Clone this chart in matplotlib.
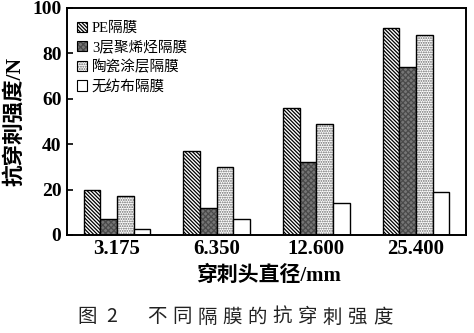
import numpy as np
import matplotlib
matplotlib.use("Agg")
import matplotlib.pyplot as plt
from matplotlib.patches import Patch

plt.rcParams['font.family'] = ['Liberation Serif', 'Noto Sans CJK SC']
plt.rcParams['hatch.linewidth'] = 0.9

diameters = ['3.175', '6.350', '12.600', '25.400']
series_names = ['PE隔膜', '3层聚烯烃隔膜', '陶瓷涂层隔膜', '无纺布隔膜']
pe_values = [20, 37, 56, 91]
polyolefin_values = [7, 12, 32, 74]
ceramic_values = [17, 30, 49, 88]
nonwoven_values = [2.5, 7, 14, 19]
y_ticks = [0, 20, 40, 60, 80, 100]

series_values = [pe_values, polyolefin_values, ceramic_values, nonwoven_values]
styles = [
    dict(facecolor='white', hatch='\\' * 9, hatch_color='black'),
    dict(facecolor='#767676', hatch='x' * 6, hatch_color='#4a4a4a'),
    dict(facecolor='white', hatch='.' * 7, hatch_color='#666666'),
    dict(facecolor='white', hatch=None, hatch_color='black'),
]

fig = plt.figure(figsize=(4.74, 3.33), dpi=100)
ax = fig.add_axes([0.1414, 0.2943, 0.8416, 0.6817])

x = np.arange(len(diameters))
width = 0.167
handles = []
for i, (name, vals, st) in enumerate(zip(series_names, series_values, styles)):
    offs = (i - 1.5) * width
    bars = ax.bar(x + offs, vals, width, facecolor=st['facecolor'], edgecolor='black',
                  linewidth=1.0, hatch=st['hatch'], label=name)
    for b in bars:
        b._hatch_color = matplotlib.colors.to_rgba(st['hatch_color'])
    h = Patch(facecolor=st['facecolor'], edgecolor='black', linewidth=0.8, hatch=st['hatch'])
    h._hatch_color = matplotlib.colors.to_rgba(st['hatch_color'])
    handles.append(h)

ax.set_xlim(-0.5, 3.5)
ax.set_ylim(0, 100)
ax.set_yticks(y_ticks)
ax.set_yticklabels([str(t) for t in y_ticks], fontsize=14, fontweight='bold')
ax.set_xticks(x)
ax.set_xticklabels(diameters, fontsize=15, fontweight='bold')
ax.tick_params(axis='y', direction='in', length=4, width=1.2, pad=4)
ax.tick_params(axis='x', length=0, pad=3)
for sp in ax.spines.values():
    sp.set_linewidth(1.4)

ax.set_xlabel('穿刺头直径/mm', fontsize=15, fontweight='bold')
ax.xaxis.set_label_coords(0.505, -0.135)
ax.set_ylabel('抗穿刺强度/N', fontsize=15.5, fontweight='bold')
ax.yaxis.set_label_coords(-0.105, 0.5)

leg = ax.legend(handles=handles, labels=series_names, loc='upper left', frameon=False,
                fontsize=10.5, handlelength=0.7, handleheight=0.7, handletextpad=0.3,
                labelspacing=0.38, borderaxespad=0.3, bbox_to_anchor=(0.0, 0.985))

# caption below the chart
caption = [('图', 87), ('2', 112), ('不', 157), ('同', 182), ('隔', 207), ('膜', 232), ('的', 257),
           ('抗', 282), ('穿', 307), ('刺', 332), ('强', 357), ('度', 383)]
for ch, px in caption:
    fig.text(px / 474, 1 - 317 / 333, ch, fontsize=14, ha='center', va='center',
             family=['Noto Sans CJK SC'], fontweight='light', color='#222222')

fig.savefig('out.png', dpi=100)
